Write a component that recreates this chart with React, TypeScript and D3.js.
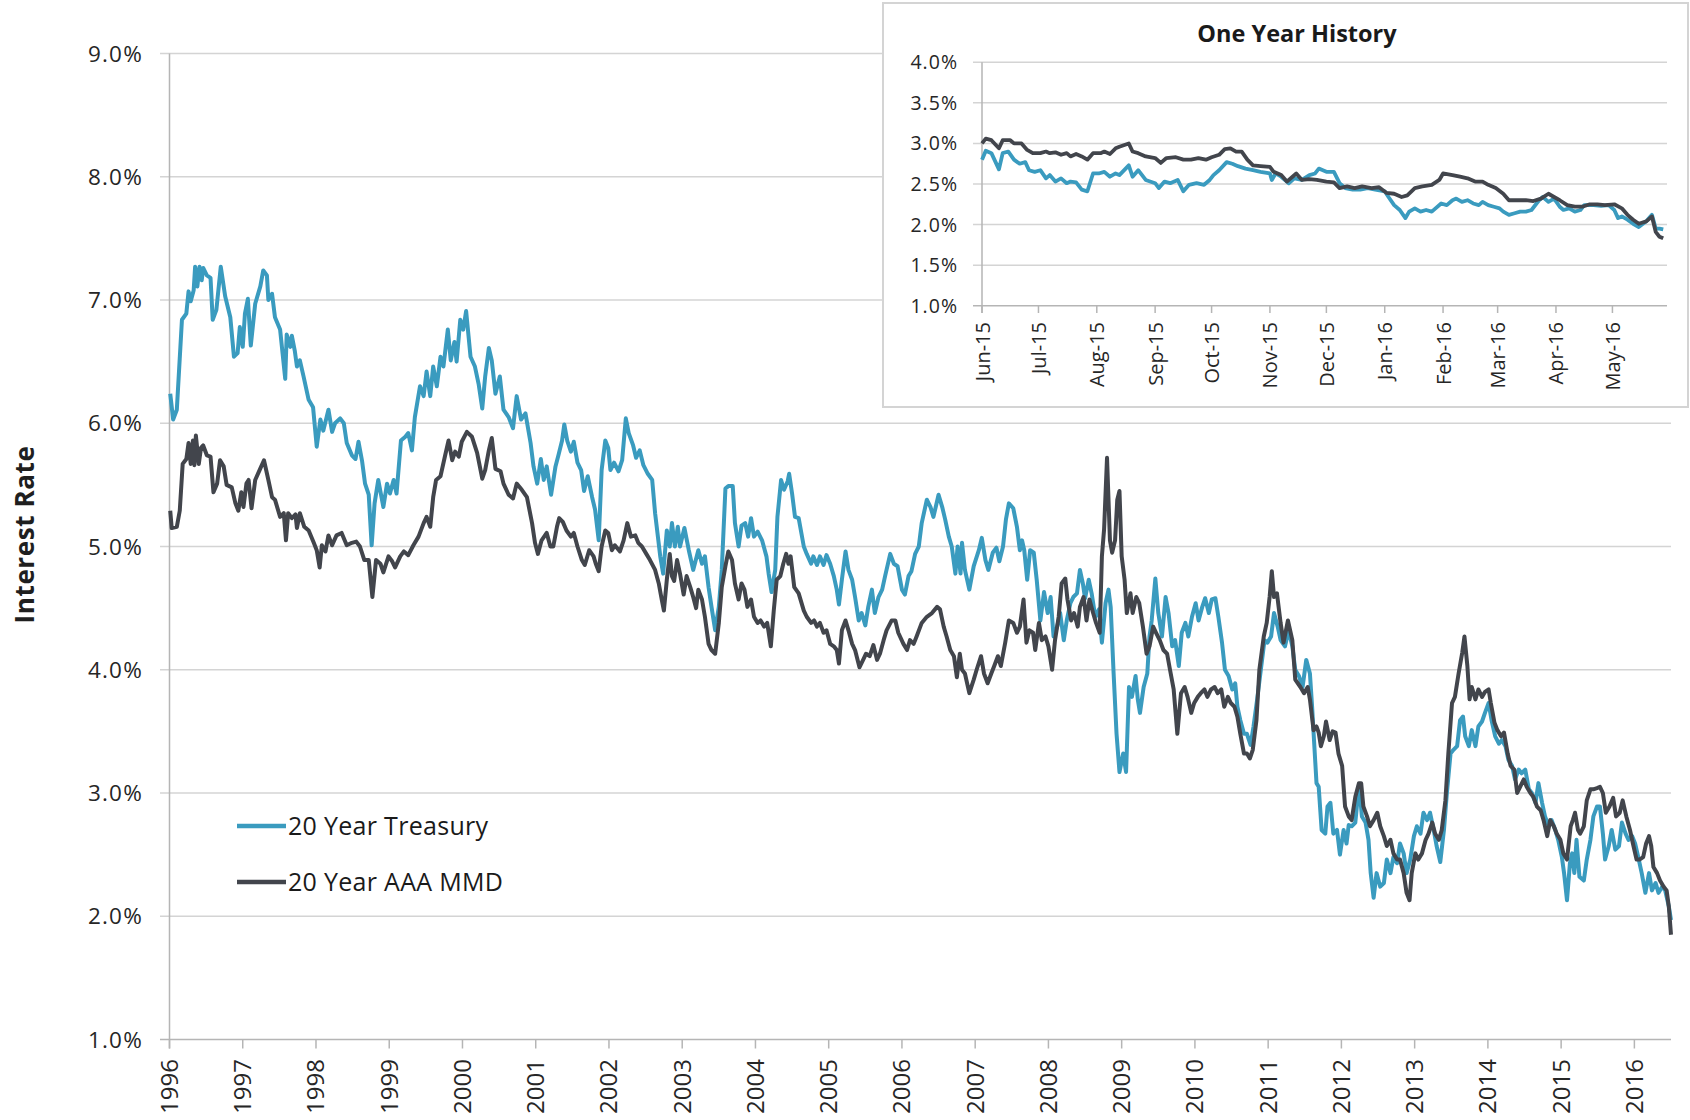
import React from 'react';
import * as d3 from 'd3';

// ---- data ----
const yearTicks = [1996, 1997, 1998, 1999, 2000, 2001, 2002, 2003, 2004, 2005, 2006, 2007, 2008, 2009, 2010, 2011, 2012, 2013, 2014, 2015, 2016];
const rateTicks = [1, 2, 3, 4, 5, 6, 7, 8, 9];
const insetRateTicks = [1, 1.5, 2, 2.5, 3, 3.5, 4];
const monthTicks = ['2015-06-01', '2015-07-01', '2015-08-01', '2015-09-01', '2015-10-01', '2015-11-01', '2015-12-01', '2016-01-01', '2016-02-01', '2016-03-01', '2016-04-01', '2016-05-01'];
const seriesNames = ['20 Year Treasury', '20 Year AAA MMD'];
const seriesColors = ['#3a9bbf', '#42454c'];

// [year, rate %]
const treasury: [number, number][] = [
  [1996.01,6.24],[1996.05,6.03],[1996.10,6.11],[1996.17,6.84],[1996.23,6.89],[1996.26,7.07],[1996.29,6.99],[1996.33,7.08],[1996.35,7.27],[1996.38,7.11],[1996.41,7.27],[1996.44,7.16],[1996.46,7.26],[1996.51,7.20],[1996.56,7.18],[1996.59,6.84],[1996.64,6.92],[1996.70,7.27],[1996.76,7.03],[1996.83,6.86],[1996.88,6.54],[1996.93,6.57],[1996.96,6.78],[1997.00,6.62],[1997.03,6.89],[1997.07,7.01],[1997.11,6.63],[1997.17,6.97],[1997.24,7.11],[1997.28,7.24],[1997.33,7.20],[1997.35,7.00],[1997.40,7.05],[1997.44,6.86],[1997.51,6.76],[1997.58,6.36],[1997.60,6.72],[1997.65,6.62],[1997.67,6.71],[1997.71,6.59],[1997.74,6.46],[1997.78,6.51],[1997.83,6.38],[1997.90,6.19],[1997.96,6.13],
  [1998.01,5.81],[1998.06,6.03],[1998.10,5.94],[1998.17,6.11],[1998.22,5.93],[1998.26,6.00],[1998.33,6.04],[1998.38,6.00],[1998.42,5.84],[1998.49,5.74],[1998.54,5.71],[1998.58,5.85],[1998.63,5.69],[1998.67,5.51],[1998.72,5.42],[1998.76,5.01],[1998.80,5.35],[1998.85,5.54],[1998.92,5.32],[1998.97,5.51],[1999.01,5.43],[1999.06,5.54],[1999.10,5.43],[1999.16,5.86],[1999.22,5.89],[1999.26,5.92],[1999.31,5.78],[1999.35,6.05],[1999.42,6.30],[1999.47,6.22],[1999.51,6.42],[1999.56,6.22],[1999.60,6.46],[1999.65,6.30],[1999.70,6.54],[1999.74,6.46],[1999.80,6.76],[1999.84,6.51],[1999.89,6.66],[1999.92,6.50],[1999.97,6.84],
  [2000.01,6.76],[2000.05,6.91],[2000.11,6.54],[2000.17,6.46],[2000.22,6.32],[2000.27,6.12],[2000.31,6.38],[2000.36,6.61],[2000.40,6.51],[2000.45,6.24],[2000.51,6.38],[2000.56,6.11],[2000.63,6.05],[2000.69,5.96],[2000.74,6.22],[2000.80,6.03],[2000.86,6.08],[2000.93,5.84],[2000.97,5.65],[2001.02,5.51],[2001.07,5.71],[2001.11,5.54],[2001.15,5.65],[2001.21,5.42],[2001.27,5.65],[2001.31,5.74],[2001.36,5.86],[2001.39,5.99],[2001.43,5.86],[2001.48,5.77],[2001.52,5.85],[2001.57,5.68],[2001.62,5.62],[2001.66,5.45],[2001.71,5.57],[2001.77,5.40],[2001.81,5.30],[2001.86,5.05],[2001.90,5.62],[2001.95,5.86],[2001.99,5.80],
  [2002.02,5.62],[2002.07,5.68],[2002.13,5.61],[2002.18,5.70],[2002.23,6.04],[2002.27,5.92],[2002.33,5.82],[2002.37,5.72],[2002.42,5.78],[2002.47,5.66],[2002.53,5.59],[2002.59,5.54],[2002.63,5.27],[2002.70,4.92],[2002.74,4.78],[2002.79,5.13],[2002.83,5.00],[2002.86,5.19],[2002.90,5.00],[2002.94,5.16],[2002.97,5.00],[2003.03,5.15],[2003.09,4.97],[2003.15,4.81],[2003.22,4.97],[2003.27,4.86],[2003.31,4.92],[2003.36,4.67],[2003.40,4.51],[2003.45,4.32],[2003.50,4.51],[2003.54,4.81],[2003.59,5.47],[2003.63,5.49],[2003.69,5.49],[2003.72,5.19],[2003.77,5.00],[2003.81,5.17],[2003.86,5.19],[2003.90,5.08],[2003.94,5.23],[2003.98,5.08],
  [2004.03,5.12],[2004.09,5.05],[2004.15,4.92],[2004.18,4.78],[2004.22,4.63],[2004.27,4.81],[2004.30,5.24],[2004.35,5.54],[2004.39,5.46],[2004.44,5.53],[2004.46,5.59],[2004.50,5.43],[2004.54,5.24],[2004.59,5.23],[2004.66,5.00],[2004.70,4.94],[2004.76,4.86],[2004.79,4.92],[2004.84,4.85],[2004.88,4.92],[2004.93,4.85],[2004.97,4.93],[2005.02,4.86],[2005.07,4.76],[2005.11,4.65],[2005.14,4.53],[2005.18,4.73],[2005.23,4.96],[2005.27,4.81],[2005.32,4.73],[2005.36,4.59],[2005.41,4.40],[2005.45,4.46],[2005.50,4.36],[2005.54,4.51],[2005.59,4.65],[2005.63,4.46],[2005.68,4.59],[2005.73,4.65],[2005.77,4.76],[2005.84,4.94],[2005.89,4.86],[2005.94,4.84],
  [2006.00,4.65],[2006.04,4.61],[2006.09,4.76],[2006.13,4.80],[2006.18,4.94],[2006.23,5.00],[2006.27,5.19],[2006.34,5.38],[2006.39,5.32],[2006.43,5.24],[2006.50,5.42],[2006.55,5.32],[2006.59,5.22],[2006.64,5.08],[2006.68,5.00],[2006.73,4.78],[2006.76,5.00],[2006.80,4.78],[2006.82,5.03],[2006.86,4.81],[2006.92,4.65],[2006.98,4.84],[2007.05,4.97],[2007.09,5.07],[2007.14,4.89],[2007.18,4.81],[2007.24,4.95],[2007.29,4.99],[2007.33,4.88],[2007.38,5.00],[2007.42,5.22],[2007.46,5.35],[2007.52,5.31],[2007.57,5.16],[2007.61,4.97],[2007.64,5.05],[2007.67,4.97],[2007.71,4.73],[2007.75,4.97],[2007.80,4.95],[2007.84,4.73],[2007.89,4.40],[2007.94,4.63],[2007.99,4.46],
  [2008.03,4.59],[2008.07,4.27],[2008.12,4.35],[2008.16,4.46],[2008.21,4.24],[2008.25,4.40],[2008.30,4.54],[2008.34,4.59],[2008.39,4.62],[2008.43,4.81],[2008.47,4.70],[2008.50,4.58],[2008.55,4.73],[2008.59,4.62],[2008.64,4.43],[2008.69,4.49],[2008.73,4.22],[2008.78,4.54],[2008.82,4.65],[2008.85,4.51],[2008.89,3.97],[2008.93,3.48],[2008.97,3.17],[2009.02,3.32],[2009.06,3.17],[2009.10,3.86],[2009.14,3.78],[2009.19,3.95],[2009.22,3.76],[2009.25,3.65],[2009.30,3.86],[2009.35,3.97],[2009.38,4.27],[2009.41,4.40],[2009.46,4.74],[2009.50,4.46],[2009.55,4.27],[2009.60,4.59],[2009.64,4.46],[2009.69,4.19],[2009.73,4.24],[2009.78,4.03],[2009.82,4.30],[2009.87,4.38],[2009.91,4.27],[2009.96,4.43],
  [2010.01,4.54],[2010.05,4.40],[2010.10,4.51],[2010.14,4.58],[2010.19,4.46],[2010.23,4.57],[2010.28,4.58],[2010.32,4.43],[2010.37,4.22],[2010.41,4.00],[2010.46,3.95],[2010.51,3.84],[2010.55,3.89],[2010.58,3.70],[2010.62,3.59],[2010.67,3.48],[2010.71,3.48],[2010.76,3.39],[2010.80,3.54],[2010.85,3.76],[2010.90,4.00],[2010.95,4.24],[2010.99,4.22],[2011.04,4.27],[2011.08,4.46],[2011.13,4.35],[2011.17,4.24],[2011.23,4.19],[2011.28,4.32],[2011.33,4.19],[2011.37,4.00],[2011.42,3.95],[2011.47,3.86],[2011.52,4.08],[2011.57,3.97],[2011.60,3.70],[2011.62,3.49],[2011.66,3.08],[2011.69,3.05],[2011.73,2.70],[2011.78,2.67],[2011.81,2.89],[2011.85,2.92],[2011.89,2.67],[2011.94,2.70],[2011.98,2.50],
  [2012.03,2.70],[2012.07,2.59],[2012.10,2.74],[2012.14,2.73],[2012.19,2.76],[2012.24,3.07],[2012.28,2.81],[2012.33,2.76],[2012.37,2.62],[2012.40,2.35],[2012.44,2.15],[2012.48,2.35],[2012.53,2.24],[2012.58,2.27],[2012.62,2.46],[2012.67,2.35],[2012.71,2.48],[2012.76,2.43],[2012.80,2.59],[2012.85,2.51],[2012.89,2.35],[2012.94,2.46],[2012.99,2.65],[2013.03,2.73],[2013.08,2.67],[2013.12,2.84],[2013.17,2.78],[2013.21,2.84],[2013.26,2.70],[2013.30,2.57],[2013.35,2.44],[2013.40,2.70],[2013.44,3.00],[2013.49,3.32],[2013.53,3.35],[2013.58,3.38],[2013.62,3.59],[2013.66,3.62],[2013.69,3.46],[2013.74,3.38],[2013.78,3.51],[2013.83,3.38],[2013.87,3.54],[2013.92,3.58],[2013.96,3.65],
  [2014.01,3.73],[2014.05,3.59],[2014.10,3.46],[2014.15,3.40],[2014.19,3.43],[2014.24,3.38],[2014.28,3.27],[2014.33,3.22],[2014.37,3.11],[2014.42,3.19],[2014.46,3.16],[2014.51,3.19],[2014.56,3.03],[2014.60,3.00],[2014.65,2.92],[2014.69,3.08],[2014.74,2.92],[2014.78,2.81],[2014.83,2.73],[2014.87,2.78],[2014.92,2.70],[2014.96,2.62],[2015.01,2.48],[2015.04,2.35],[2015.08,2.13],[2015.12,2.43],[2015.15,2.51],[2015.18,2.35],[2015.21,2.62],[2015.25,2.32],[2015.31,2.29],[2015.35,2.46],[2015.40,2.62],[2015.44,2.81],[2015.49,2.89],[2015.53,2.89],[2015.57,2.67],[2015.60,2.46],[2015.65,2.57],[2015.69,2.70],[2015.74,2.54],[2015.79,2.57],[2015.83,2.76],[2015.88,2.67],[2015.92,2.62],[2015.97,2.65],
  [2016.01,2.59],[2016.06,2.46],[2016.10,2.35],[2016.15,2.19],[2016.20,2.35],[2016.24,2.21],[2016.29,2.27],[2016.33,2.19],[2016.38,2.24],[2016.42,2.21],[2016.47,2.08],[2016.50,1.97],
];

const mmd: [number, number][] = [
  [1996.01,5.29],[1996.03,5.15],[1996.10,5.16],[1996.14,5.29],[1996.18,5.67],[1996.23,5.71],[1996.26,5.84],[1996.29,5.67],[1996.32,5.86],[1996.34,5.66],[1996.36,5.90],[1996.40,5.67],[1996.43,5.80],[1996.46,5.82],[1996.51,5.74],[1996.56,5.73],[1996.60,5.44],[1996.65,5.51],[1996.69,5.70],[1996.74,5.65],[1996.78,5.50],[1996.85,5.48],[1996.90,5.35],[1996.94,5.29],[1996.98,5.44],[1997.01,5.32],[1997.05,5.51],[1997.08,5.54],[1997.12,5.31],[1997.17,5.54],[1997.23,5.62],[1997.29,5.70],[1997.35,5.54],[1997.40,5.40],[1997.44,5.38],[1997.51,5.24],[1997.56,5.27],[1997.59,5.05],[1997.62,5.27],[1997.67,5.23],[1997.72,5.26],[1997.74,5.15],[1997.78,5.27],[1997.84,5.16],[1997.90,5.13],[1997.97,5.03],
  [1998.01,4.97],[1998.05,4.83],[1998.08,5.01],[1998.13,4.96],[1998.17,5.09],[1998.22,5.01],[1998.28,5.09],[1998.35,5.11],[1998.42,5.01],[1998.49,5.03],[1998.55,5.04],[1998.60,5.00],[1998.66,4.89],[1998.72,4.89],[1998.77,4.59],[1998.82,4.89],[1998.88,4.86],[1998.92,4.79],[1998.99,4.92],[1999.04,4.88],[1999.08,4.83],[1999.15,4.92],[1999.20,4.96],[1999.26,4.93],[1999.33,5.01],[1999.40,5.08],[1999.47,5.19],[1999.51,5.24],[1999.56,5.16],[1999.60,5.40],[1999.64,5.54],[1999.70,5.57],[1999.76,5.73],[1999.81,5.86],[1999.86,5.70],[1999.90,5.77],[1999.95,5.73],[1999.99,5.85],
  [2000.06,5.93],[2000.13,5.89],[2000.20,5.76],[2000.27,5.55],[2000.31,5.62],[2000.36,5.78],[2000.40,5.88],[2000.45,5.63],[2000.52,5.61],[2000.56,5.51],[2000.63,5.42],[2000.69,5.39],[2000.74,5.51],[2000.81,5.46],[2000.88,5.40],[2000.95,5.19],[2000.99,5.03],[2001.03,4.94],[2001.08,5.05],[2001.15,5.11],[2001.20,5.00],[2001.24,5.00],[2001.29,5.16],[2001.32,5.23],[2001.37,5.20],[2001.42,5.13],[2001.48,5.08],[2001.52,5.11],[2001.57,5.00],[2001.63,4.89],[2001.67,4.85],[2001.73,4.97],[2001.79,4.92],[2001.82,4.86],[2001.86,4.80],[2001.90,5.00],[2001.95,5.13],[2001.99,5.11],
  [2002.04,4.97],[2002.08,5.01],[2002.15,4.96],[2002.20,5.05],[2002.25,5.19],[2002.30,5.08],[2002.36,5.09],[2002.40,5.03],[2002.45,5.00],[2002.51,4.94],[2002.56,4.89],[2002.63,4.81],[2002.68,4.70],[2002.72,4.57],[2002.75,4.48],[2002.79,4.73],[2002.83,4.94],[2002.86,4.76],[2002.89,4.72],[2002.93,4.89],[2002.97,4.78],[2003.02,4.61],[2003.06,4.76],[2003.11,4.67],[2003.15,4.59],[2003.19,4.50],[2003.22,4.65],[2003.27,4.57],[2003.31,4.43],[2003.36,4.21],[2003.40,4.16],[2003.45,4.13],[2003.50,4.38],[2003.54,4.67],[2003.59,4.84],[2003.63,4.96],[2003.68,4.89],[2003.72,4.70],[2003.77,4.57],[2003.81,4.70],[2003.85,4.65],[2003.89,4.51],[2003.94,4.57],[2003.98,4.43],
  [2004.03,4.38],[2004.07,4.40],[2004.12,4.35],[2004.16,4.38],[2004.21,4.19],[2004.25,4.48],[2004.29,4.73],[2004.34,4.76],[2004.38,4.86],[2004.42,4.94],[2004.45,4.86],[2004.48,4.92],[2004.53,4.67],[2004.59,4.62],[2004.66,4.48],[2004.70,4.43],[2004.76,4.38],[2004.80,4.40],[2004.84,4.35],[2004.88,4.38],[2004.93,4.30],[2004.97,4.32],[2005.02,4.21],[2005.07,4.19],[2005.11,4.16],[2005.14,4.05],[2005.18,4.32],[2005.23,4.40],[2005.27,4.32],[2005.32,4.21],[2005.36,4.16],[2005.42,4.02],[2005.47,4.08],[2005.51,4.13],[2005.56,4.11],[2005.61,4.20],[2005.66,4.08],[2005.70,4.13],[2005.75,4.24],[2005.79,4.32],[2005.86,4.40],[2005.91,4.40],[2005.95,4.30],
  [2006.02,4.21],[2006.07,4.16],[2006.11,4.24],[2006.16,4.21],[2006.20,4.27],[2006.27,4.38],[2006.34,4.43],[2006.41,4.46],[2006.48,4.51],[2006.52,4.49],[2006.57,4.35],[2006.61,4.27],[2006.66,4.16],[2006.71,4.11],[2006.75,3.94],[2006.79,4.13],[2006.82,4.00],[2006.86,3.97],[2006.92,3.81],[2006.98,3.92],[2007.02,4.00],[2007.08,4.11],[2007.12,3.97],[2007.17,3.89],[2007.22,3.97],[2007.26,4.03],[2007.31,4.11],[2007.35,4.03],[2007.41,4.22],[2007.46,4.40],[2007.52,4.38],[2007.57,4.30],[2007.61,4.35],[2007.66,4.57],[2007.70,4.22],[2007.74,4.32],[2007.79,4.30],[2007.82,4.16],[2007.87,4.38],[2007.91,4.24],[2007.96,4.27],
  [2008.00,4.19],[2008.05,4.00],[2008.09,4.24],[2008.14,4.43],[2008.18,4.70],[2008.23,4.74],[2008.26,4.57],[2008.31,4.40],[2008.35,4.46],[2008.40,4.35],[2008.43,4.51],[2008.48,4.59],[2008.52,4.40],[2008.56,4.57],[2008.61,4.46],[2008.65,4.38],[2008.70,4.30],[2008.73,4.92],[2008.76,5.14],[2008.80,5.72],[2008.84,5.05],[2008.87,4.95],[2008.91,5.05],[2008.94,5.38],[2008.97,5.45],[2009.00,4.92],[2009.04,4.73],[2009.07,4.46],[2009.12,4.62],[2009.15,4.46],[2009.20,4.59],[2009.24,4.54],[2009.29,4.35],[2009.34,4.13],[2009.38,4.19],[2009.43,4.35],[2009.47,4.30],[2009.52,4.24],[2009.57,4.16],[2009.62,4.13],[2009.66,4.00],[2009.71,3.84],[2009.76,3.48],[2009.81,3.81],[2009.86,3.86],[2009.90,3.78],[2009.95,3.65],[2009.99,3.73],
  [2010.04,3.78],[2010.08,3.81],[2010.13,3.84],[2010.17,3.78],[2010.22,3.84],[2010.27,3.86],[2010.31,3.81],[2010.36,3.84],[2010.40,3.70],[2010.45,3.78],[2010.49,3.73],[2010.54,3.70],[2010.58,3.62],[2010.62,3.48],[2010.67,3.32],[2010.71,3.32],[2010.75,3.28],[2010.79,3.35],[2010.84,3.59],[2010.88,4.00],[2010.94,4.27],[2010.98,4.38],[2011.02,4.59],[2011.05,4.80],[2011.08,4.59],[2011.12,4.62],[2011.17,4.38],[2011.21,4.22],[2011.27,4.40],[2011.33,4.24],[2011.37,3.92],[2011.44,3.86],[2011.49,3.81],[2011.54,3.86],[2011.57,3.76],[2011.62,3.51],[2011.66,3.54],[2011.69,3.49],[2011.72,3.38],[2011.76,3.46],[2011.79,3.58],[2011.84,3.43],[2011.88,3.50],[2011.92,3.49],[2011.96,3.32],
  [2012.01,3.22],[2012.05,2.89],[2012.10,2.81],[2012.14,2.78],[2012.19,2.97],[2012.24,3.08],[2012.27,3.08],[2012.30,2.89],[2012.35,2.81],[2012.39,2.73],[2012.44,2.78],[2012.49,2.84],[2012.53,2.73],[2012.58,2.65],[2012.62,2.57],[2012.67,2.62],[2012.71,2.51],[2012.76,2.46],[2012.80,2.46],[2012.85,2.35],[2012.89,2.19],[2012.93,2.13],[2012.96,2.35],[2013.01,2.51],[2013.05,2.46],[2013.10,2.51],[2013.15,2.62],[2013.19,2.67],[2013.24,2.76],[2013.28,2.67],[2013.33,2.62],[2013.37,2.70],[2013.42,2.94],[2013.46,3.32],[2013.51,3.73],[2013.55,3.78],[2013.60,3.97],[2013.65,4.14],[2013.68,4.27],[2013.72,4.03],[2013.75,3.76],[2013.78,3.86],[2013.83,3.76],[2013.87,3.84],[2013.92,3.78],[2013.96,3.82],
  [2014.01,3.84],[2014.04,3.73],[2014.09,3.57],[2014.13,3.51],[2014.18,3.46],[2014.22,3.49],[2014.27,3.32],[2014.31,3.22],[2014.36,3.19],[2014.40,3.00],[2014.44,3.05],[2014.49,3.11],[2014.53,3.05],[2014.58,3.00],[2014.62,2.97],[2014.67,2.89],[2014.72,2.86],[2014.76,2.78],[2014.81,2.65],[2014.85,2.78],[2014.90,2.73],[2014.94,2.67],[2014.99,2.62],[2015.03,2.51],[2015.08,2.46],[2015.13,2.73],[2015.16,2.78],[2015.19,2.84],[2015.23,2.70],[2015.26,2.67],[2015.31,2.73],[2015.35,2.94],[2015.40,3.03],[2015.44,3.03],[2015.49,3.04],[2015.53,3.05],[2015.57,3.00],[2015.61,2.84],[2015.66,2.89],[2015.71,2.96],[2015.75,2.81],[2015.80,2.84],[2015.84,2.94],[2015.89,2.81],[2015.94,2.70],[2015.98,2.59],
  [2016.03,2.46],[2016.07,2.46],[2016.12,2.48],[2016.16,2.59],[2016.20,2.65],[2016.23,2.57],[2016.26,2.40],[2016.31,2.35],[2016.35,2.29],[2016.40,2.24],[2016.44,2.21],[2016.47,2.08],[2016.50,1.85],
];

// one-year history, [date, rate %]
const insetTreasury: [string, number][] = [
  ['2015-06-01',2.80],['2015-06-03',2.91],['2015-06-06',2.88],['2015-06-10',2.68],['2015-06-12',2.88],['2015-06-15',2.90],['2015-06-18',2.80],['2015-06-21',2.75],['2015-06-24',2.77],['2015-06-26',2.67],['2015-06-29',2.65],['2015-07-02',2.67],['2015-07-05',2.57],['2015-07-07',2.61],['2015-07-10',2.53],['2015-07-13',2.57],['2015-07-16',2.51],['2015-07-18',2.53],['2015-07-21',2.52],['2015-07-24',2.43],['2015-07-27',2.41],['2015-07-30',2.63],
  ['2015-08-02',2.63],['2015-08-05',2.65],['2015-08-08',2.59],['2015-08-11',2.63],['2015-08-13',2.61],['2015-08-18',2.73],['2015-08-20',2.59],['2015-08-23',2.67],['2015-08-27',2.55],['2015-09-01',2.51],['2015-09-03',2.45],['2015-09-06',2.53],['2015-09-09',2.51],['2015-09-13',2.55],['2015-09-16',2.41],['2015-09-19',2.49],['2015-09-23',2.51],['2015-09-27',2.49],['2015-09-30',2.55],
  ['2015-10-02',2.61],['2015-10-05',2.67],['2015-10-09',2.77],['2015-10-12',2.75],['2015-10-15',2.72],['2015-10-19',2.69],['2015-10-23',2.67],['2015-10-27',2.65],['2015-11-01',2.63],['2015-11-02',2.55],['2015-11-04',2.63],['2015-11-07',2.59],['2015-11-11',2.51],['2015-11-14',2.57],['2015-11-18',2.55],['2015-11-22',2.61],['2015-11-25',2.63],['2015-11-27',2.69],
  ['2015-12-01',2.65],['2015-12-05',2.65],['2015-12-08',2.51],['2015-12-11',2.45],['2015-12-15',2.43],['2015-12-19',2.43],['2015-12-23',2.45],['2015-12-27',2.43],['2016-01-01',2.41],['2016-01-03',2.34],['2016-01-06',2.24],['2016-01-09',2.18],['2016-01-12',2.08],['2016-01-14',2.16],['2016-01-17',2.20],['2016-01-20',2.16],['2016-01-23',2.18],['2016-01-26',2.16],['2016-01-28',2.20],['2016-01-31',2.26],
  ['2016-02-03',2.24],['2016-02-06',2.30],['2016-02-08',2.32],['2016-02-11',2.28],['2016-02-14',2.30],['2016-02-17',2.26],['2016-02-20',2.24],['2016-02-22',2.28],['2016-02-25',2.24],['2016-02-28',2.22],['2016-03-02',2.20],['2016-03-04',2.16],['2016-03-07',2.12],['2016-03-10',2.14],['2016-03-13',2.16],['2016-03-16',2.16],['2016-03-19',2.18],['2016-03-23',2.30],['2016-03-25',2.34],['2016-03-28',2.28],['2016-03-31',2.32],
  ['2016-04-03',2.22],['2016-04-05',2.18],['2016-04-08',2.20],['2016-04-11',2.16],['2016-04-14',2.18],['2016-04-16',2.24],['2016-04-21',2.24],['2016-04-25',2.23],['2016-04-29',2.24],['2016-05-02',2.18],['2016-05-04',2.08],['2016-05-06',2.10],['2016-05-09',2.06],['2016-05-12',2.01],['2016-05-15',1.97],['2016-05-19',2.04],['2016-05-22',2.12],['2016-05-24',1.95],['2016-05-26',1.95],['2016-05-28',1.94],
];

const insetMmd: [string, number][] = [
  ['2015-06-01',3.00],['2015-06-03',3.06],['2015-06-06',3.04],['2015-06-10',2.94],['2015-06-12',3.04],['2015-06-16',3.04],['2015-06-18',3.00],['2015-06-22',3.00],['2015-06-25',2.92],['2015-06-28',2.88],['2015-07-02',2.88],['2015-07-05',2.90],['2015-07-07',2.88],['2015-07-10',2.89],['2015-07-13',2.86],['2015-07-16',2.88],['2015-07-18',2.84],['2015-07-21',2.87],['2015-07-24',2.84],['2015-07-27',2.80],['2015-07-30',2.88],
  ['2015-08-03',2.88],['2015-08-05',2.90],['2015-08-08',2.87],['2015-08-11',2.94],['2015-08-13',2.96],['2015-08-18',3.00],['2015-08-20',2.90],['2015-08-23',2.88],['2015-08-27',2.84],['2015-09-01',2.82],['2015-09-04',2.76],['2015-09-07',2.82],['2015-09-12',2.83],['2015-09-16',2.80],['2015-09-20',2.80],['2015-09-24',2.82],['2015-09-28',2.80],
  ['2015-10-01',2.83],['2015-10-05',2.86],['2015-10-08',2.93],['2015-10-11',2.94],['2015-10-14',2.90],['2015-10-17',2.90],['2015-10-20',2.80],['2015-10-23',2.73],['2015-10-27',2.72],['2015-11-01',2.71],['2015-11-03',2.65],['2015-11-07',2.61],['2015-11-10',2.53],['2015-11-13',2.59],['2015-11-15',2.63],['2015-11-18',2.55],['2015-11-22',2.56],['2015-11-26',2.55],
  ['2015-12-01',2.53],['2015-12-05',2.52],['2015-12-08',2.45],['2015-12-12',2.47],['2015-12-16',2.45],['2015-12-20',2.47],['2015-12-25',2.45],['2015-12-29',2.46],['2016-01-02',2.39],['2016-01-06',2.38],['2016-01-10',2.34],['2016-01-13',2.36],['2016-01-17',2.45],['2016-01-21',2.47],['2016-01-26',2.49],['2016-01-30',2.55],
  ['2016-02-01',2.63],['2016-02-06',2.61],['2016-02-10',2.59],['2016-02-14',2.57],['2016-02-18',2.53],['2016-02-22',2.53],['2016-02-25',2.49],['2016-02-29',2.45],['2016-03-04',2.38],['2016-03-07',2.30],['2016-03-11',2.30],['2016-03-16',2.30],['2016-03-20',2.29],['2016-03-24',2.32],['2016-03-28',2.38],['2016-03-31',2.34],
  ['2016-04-03',2.30],['2016-04-07',2.24],['2016-04-11',2.22],['2016-04-15',2.22],['2016-04-19',2.25],['2016-04-23',2.25],['2016-04-27',2.24],['2016-05-02',2.25],['2016-05-06',2.20],['2016-05-09',2.12],['2016-05-12',2.06],['2016-05-15',2.01],['2016-05-19',2.04],['2016-05-22',2.10],['2016-05-24',1.91],['2016-05-26',1.85],['2016-05-28',1.83],
];

const FONT = '"Open Sans", "DejaVu Sans", sans-serif';
const GRID = '#d4d4d4';
const AXIS = '#b5b5b5';
const TEXT = '#262626';

const parseDay = d3.timeParse('%Y-%m-%d');
const fmtMonth = d3.timeFormat('%b-%y');

export default function App() {
  // main chart
  const x = d3.scaleLinear().domain([1996, 2016.5]).range([169.5, 1671]);
  const y = d3.scaleLinear().domain([1, 9]).range([1039.5, 53.5]);
  const line = d3.line<[number, number]>().x((d) => x(d[0])).y((d) => y(d[1]));

  // inset chart
  const ix = d3.scaleTime().domain([parseDay('2015-06-01') as Date, parseDay('2016-05-30') as Date]).range([982, 1667]);
  const iy = d3.scaleLinear().domain([1, 4]).range([305.7, 62.3]);
  const iline = d3.line<[string, number]>().x((d) => ix(parseDay(d[0]) as Date)).y((d) => iy(d[1]));

  const mainSeries = [treasury, mmd];
  const insetSeries = [insetTreasury, insetMmd];

  return (
    <div style={{ position: 'absolute', left: 0, top: 0 }}>
      <svg width={1690} height={1120} style={{ display: 'block', background: '#fff' }} fontFamily={FONT}>
        {/* gridlines + y ticks */}
        {rateTicks.map((t) => (
          <g key={t}>
            <line x1={160} x2={x.range()[1]} y1={y(t)} y2={y(t)} stroke={t === 1 ? AXIS : GRID} strokeWidth={1.5} />
            <text x={143} y={y(t) + 8} textAnchor="end" fontSize={22.5} letterSpacing={1.2} fill={TEXT}>
              {t.toFixed(1)}%
            </text>
          </g>
        ))}
        <line x1={x.range()[0]} x2={x.range()[0]} y1={y(9)} y2={1048.5} stroke={AXIS} strokeWidth={1.5} />
        {yearTicks.map((t) => (
          <g key={t}>
            <line x1={x(t)} x2={x(t)} y1={1039.5} y2={1048.5} stroke={AXIS} strokeWidth={1.5} />
            <text transform={`translate(${x(t) + 8.5},1059) rotate(-90)`} textAnchor="end" fontSize={24} fill={TEXT}>
              {t}
            </text>
          </g>
        ))}
        <text transform="translate(34,534.5) rotate(-90)" textAnchor="middle" fontSize={26} fontWeight={700} letterSpacing={0.6} fill="#1f1f1f">
          Interest Rate
        </text>

        {mainSeries.map((s, i) => (
          <path key={i} d={line(s) || ''} fill="none" stroke={seriesColors[i]} strokeWidth={4} strokeLinejoin="round" />
        ))}

        {/* legend */}
        {seriesNames.map((n, i) => (
          <g key={n} transform={`translate(237,${826 + i * 56})`}>
            <line x1={0} x2={49} y1={0} y2={0} stroke={seriesColors[i]} strokeWidth={4.5} />
            <text x={51} y={9} fontSize={25} letterSpacing={0.3} fill="#1a1a1a">
              {n}
            </text>
          </g>
        ))}

        {/* inset: one year history */}
        <rect x={883} y={3} width={805} height={404} fill="#fff" stroke={GRID} strokeWidth={2} />
        <text x={1297} y={42} textAnchor="middle" fontSize={23.5} fontWeight={700} fill="#1a1a1a">
          One Year History
        </text>
        {insetRateTicks.map((t) => (
          <g key={t}>
            <line x1={973} x2={ix.range()[1]} y1={iy(t)} y2={iy(t)} stroke={t === 1 ? AXIS : GRID} strokeWidth={1.5} />
            <text x={958} y={iy(t) + 7} textAnchor="end" fontSize={19.5} letterSpacing={1} fill={TEXT}>
              {t.toFixed(1)}%
            </text>
          </g>
        ))}
        <line x1={ix.range()[0]} x2={ix.range()[0]} y1={iy(4)} y2={313} stroke={AXIS} strokeWidth={1.5} />
        {monthTicks.map((m) => {
          const d = parseDay(m) as Date;
          return (
            <g key={m}>
              <line x1={ix(d)} x2={ix(d)} y1={305.7} y2={313} stroke={AXIS} strokeWidth={1.5} />
              <text transform={`translate(${ix(d) + 7.5},322) rotate(-90)`} textAnchor="end" fontSize={20} fill={TEXT}>
                {fmtMonth(d)}
              </text>
            </g>
          );
        })}
        {insetSeries.map((s, i) => (
          <path key={i} d={iline(s) || ''} fill="none" stroke={seriesColors[i]} strokeWidth={3.8} strokeLinejoin="round" />
        ))}
      </svg>
    </div>
  );
}
